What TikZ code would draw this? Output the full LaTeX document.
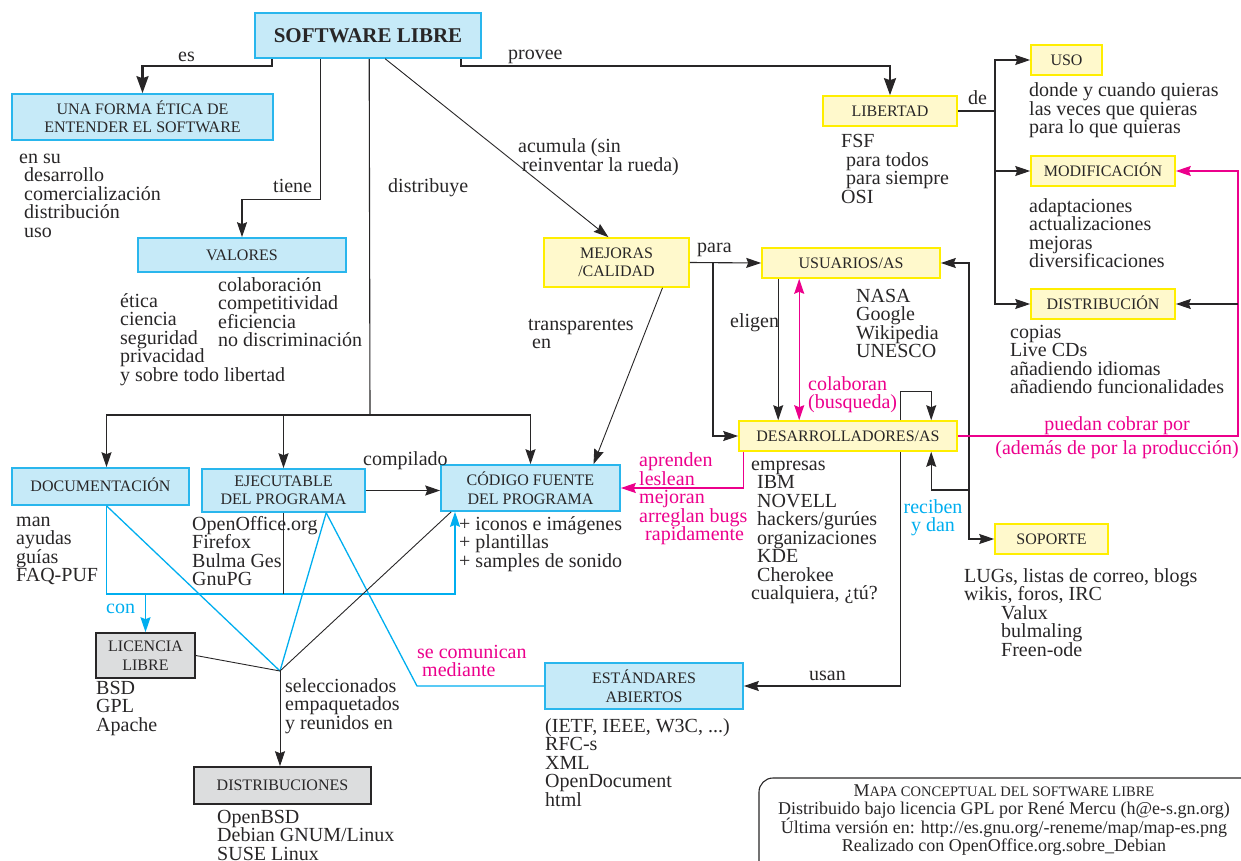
\documentclass[tikz,border=0pt]{standalone}
\usepackage{fontspec}
\setmainfont{Liberation Serif}
\usetikzlibrary{arrows.meta}
\lineskiplimit=-20pt

\definecolor{cajaazul}{RGB}{198,234,248}
\definecolor{bordeazul}{RGB}{41,182,237}
\definecolor{cajaamarilla}{RGB}{255,249,204}
\definecolor{bordeamarillo}{RGB}{255,238,0}
\definecolor{cajagris}{RGB}{220,221,222}
\definecolor{rosa}{RGB}{236,0,140}
\definecolor{celeste}{RGB}{0,174,239}
\definecolor{tinta}{RGB}{40,38,39}

\tikzset{
  caja/.style={rectangle, inner sep=0pt, align=center, text=tinta, line width=1.6pt,
    font=\fontsize{16}{18.5}\selectfont},
  simple/.style={text height=10.6pt, text depth=0pt},
  azul/.style={caja, fill=cajaazul, draw=bordeazul},
  amarilla/.style={caja, fill=cajaamarilla, draw=bordeamarillo},
  gris/.style={caja, fill=cajagris, draw=tinta},
  % base = linea de base de la ultima linea
  lista/.style={anchor=base west, align=left, inner sep=0pt, text=tinta,
    font=\fontsize{20}{18.5}\selectfont},
  etiqueta/.style={lista},
  linea/.style={draw=tinta, line width=1.1pt},
  flecha/.style={linea, -{Stealth[length=15pt,width=10pt,inset=2pt]}},
  gruesa/.style={draw=tinta, line width=2.4pt, -{Stealth[length=17pt,width=12pt,inset=2pt]}},
  rosaflecha/.style={draw=rosa, line width=1.3pt, -{Stealth[length=15pt,width=10pt,inset=2pt]}},
  celestelinea/.style={draw=celeste, line width=1.3pt},
  celesteflecha/.style={celestelinea, -{Stealth[length=15pt,width=10pt,inset=2pt]}},
}

\begin{document}
\begin{tikzpicture}[x=1pt,y=1pt]
	\useasboundingbox (0,0) rectangle (1241,-861);
	% conceptos
	\node[azul, minimum width=226pt, minimum height=45pt, text height=14pt, text depth=0pt, font=\bfseries\fontsize{21}{22}\selectfont] (sl) at (368,-35.5) {SOFTWARE LIBRE};
	\node[azul, minimum width=261pt, minimum height=46pt] (etica) at (142.5,-117) {UNA FORMA ÉTICA DE\\ENTENDER EL SOFTWARE};
	\node[azul, minimum width=208pt, minimum height=34pt, simple] (valores) at (242,-255) {VALORES};
	\node[amarilla, minimum width=145pt, minimum height=49pt] (mejoras) at (616.5,-262.5) {MEJORAS\\/CALIDAD};
	\node[amarilla, minimum width=134pt, minimum height=30pt, simple] (libertad) at (890,-111) {LIBERTAD};
	\node[amarilla, minimum width=71pt, minimum height=30pt, simple] (uso) at (1066.5,-60) {USO};
	\node[amarilla, minimum width=144pt, minimum height=30pt, simple] (modif) at (1103,-171) {MODIFICACIÓN};
	\node[amarilla, minimum width=144pt, minimum height=30pt, simple] (distrib) at (1103,-304) {DISTRIBUCIÓN};
	\node[amarilla, minimum width=178pt, minimum height=30pt, simple] (usuarios) at (851,-263) {USUARIOS/AS};
	\node[amarilla, minimum width=218pt, minimum height=30pt, simple] (desarr) at (848,-436) {DESARROLLADORES/AS};
	\node[amarilla, minimum width=113pt, minimum height=30pt, simple] (soporte) at (1051.5,-539) {SOPORTE};
	\node[azul, minimum width=177pt, minimum height=37pt, simple] (doc) at (100.5,-486.5) {DOCUMENTACIÓN};
	\node[azul, minimum width=163pt, minimum height=43pt] (ejec) at (283.5,-490.5) {EJECUTABLE\\DEL PROGRAMA};
	\node[azul, minimum width=179pt, minimum height=46pt] (codigo) at (530.5,-488) {CÓDIGO FUENTE\\DEL PROGRAMA};
	\node[gris, minimum width=99pt, minimum height=45pt] (licencia) at (145.5,-655.5) {LICENCIA\\LIBRE};
	\node[gris, minimum width=177pt, minimum height=37pt, simple] (distros) at (282.5,-785.5) {DISTRIBUCIONES};
	\node[azul, minimum width=198pt, minimum height=46pt] (estandares) at (644,-686) {ESTÁNDARES\\ABIERTOS};
	% puntos de paso
	\coordinate (reparte) at (370,-415);
	\coordinate (para) at (713,-263);
	\coordinate (de) at (995,-111);
	\coordinate (apoyo) at (969,-490);
	\coordinate (cobro) at (1238,-304);
	\coordinate (fuente) at (455,-594);
	\coordinate (junta) at (280,-671);
	\coordinate (mediante) at (417,-686);
	% conectores
	\draw[gruesa] ([xshift=18pt]sl.south west) -- ++(0,-7) -| (etica.north);
	\draw[gruesa] ([xshift=-21pt]sl.south east) -- ++(0,-7) -| (libertad.north);
	\draw[flecha] ([xshift=66pt]sl.south west) -- ++(0,-141) -| (valores.north);
	\draw[linea] ([xshift=115pt]sl.south west) -- (reparte);
	\draw[flecha] (reparte) -| ([xshift=6pt]doc.north);
	\draw[flecha] (reparte) -| (ejec.north);
	\draw[flecha] (reparte) -| (codigo.north);
	\draw[flecha, line width=0.9pt] ([xshift=131pt]sl.south west) -- ([xshift=-8pt]mejoras.north);
	\draw[flecha, line width=0.9pt] ([xshift=46pt]mejoras.south) -- ([xshift=63pt]codigo.north);
	\draw[flecha] (mejoras.east) -- (usuarios.west);
	\draw[flecha] (para) |- (desarr.west);
	\draw[flecha] ([xshift=17pt]usuarios.south west) -- ([xshift=17pt]usuarios.south west |- desarr.north);
	\draw[rosaflecha, {Stealth[length=15pt,width=10pt,inset=2pt]}-{Stealth[length=15pt,width=10pt,inset=2pt]}] ([xshift=38pt]usuarios.south west) -- ([xshift=38pt]usuarios.south west |- desarr.north);
	\draw[flecha] ([xshift=162pt]desarr.north west) -- ++(0,29) -| ([xshift=193pt]desarr.north west);
	\draw[flecha] (apoyo) |- (usuarios.east);
	\draw[flecha] (apoyo) -| ([xshift=193pt]desarr.south west);
	\draw[flecha] (apoyo) |- (soporte.west);
	\draw[flecha] ([xshift=162pt]desarr.south west) |- (estandares.east);
	\draw[rosaflecha] ([xshift=5pt]desarr.south west) |- (codigo.east);
	\draw[rosaflecha] (desarr.east) -- (desarr.east -| cobro) |- (modif.east);
	\draw[flecha] (cobro) -- (distrib.east);
	\draw[linea] (libertad.east) -- (de);
	\draw[flecha] (de) |- (uso.west);
	\draw[flecha] (de) |- (modif.west);
	\draw[flecha] (de) |- (distrib.west);
	\draw[flecha] (ejec.east) -- (ejec.east -| codigo.west);
	\draw[celesteflecha] ([xshift=6pt]doc.south) |- (fuente) -- (fuente |- codigo.south);
	\draw[linea] (ejec.south) -- (ejec.south |- fuente);
	\draw[celesteflecha] (licencia.north |- fuente) -- (licencia.north);
	\draw[celestelinea] ([xshift=6pt]doc.south) -- (junta);
	\draw[celestelinea] ([xshift=125pt]ejec.south west) -- (junta);
	\draw[celestelinea] ([xshift=125pt]ejec.south west) -- (mediante) -- (estandares.west);
	\draw[linea, line width=0.9pt] ([xshift=11pt]codigo.south west) -- (junta);
	\draw[linea, line width=0.9pt] (licencia.east) -- (junta);
	\draw[flecha, line width=0.9pt] (junta) -- (junta |- distros.north);
	% etiquetas de los conectores
	\node[etiqueta] (lEs) at (178,-62) {es};
	\node[etiqueta] (lProvee) at (508,-60) {provee};
	\node[etiqueta] (lTiene) at (273,-193) {tiene};
	\node[etiqueta] (lDistribuye) at (388,-193) {distribuye};
	\node[etiqueta] (lAcumula) at (518,-171.5) {acumula (sin\\\hspace*{4pt}reinventar la rueda)};
	\node[etiqueta] (lTransparentes) at (528,-348.5) {transparentes\\\hspace*{4pt}en};
	\node[etiqueta] (lPara) at (697,-252) {para};
	\node[etiqueta] (lDe) at (968,-105) {de};
	\node[etiqueta] (lEligen) at (730,-327) {eligen};
	\node[etiqueta, text=rosa] (lColaboran) at (808,-408.5) {colaboran\\(busqueda)};
	\node[etiqueta, text=rosa, anchor=base, align=center] (lCobrar) at (1117,-454) {puedan cobrar por\\[5pt](además de por la producción)};
	\node[etiqueta, text=celeste, anchor=base, align=center] (lReciben) at (933,-531.5) {reciben\\y dan};
	\node[etiqueta, text=rosa] (lAprenden) at (639,-540.5) {aprenden\\leslean\\mejoran\\arreglan bugs\\\hspace*{6pt}rapidamente};
	\node[etiqueta] (lUsan) at (809,-680) {usan};
	\node[etiqueta] (lCompilado) at (363,-465) {compilado};
	\node[etiqueta, text=celeste] (lCon) at (106,-613) {con};
	\node[etiqueta] (lSeleccionados) at (285,-729) {seleccionados\\empaquetados\\y reunidos en};
	\node[etiqueta, text=rosa] (lComunican) at (417,-676.5) {se comunican\\\hspace*{5pt}mediante};
	% ejemplos bajo cada concepto
	\node[lista] (tEnsu) at (19,-237) {en su\\\hspace*{5pt}desarrollo\\\hspace*{5pt}comercialización\\\hspace*{5pt}distribución\\\hspace*{5pt}uso};
	\node[lista] (tValoresA) at (120,-381) {ética\\ciencia\\seguridad\\privacidad\\y sobre todo libertad};
	\node[lista] (tValoresB) at (218,-346.5) {colaboración\\competitividad\\eficiencia\\no discriminación};
	\node[lista] (tLibertad) at (841,-203.5) {FSF\\\hspace*{5pt}para todos\\\hspace*{5pt}para siempre\\OSI};
	\node[lista] (tUso) at (1029,-134) {donde y cuando quieras\\las veces que quieras\\para lo que quieras};
	\node[lista] (tModif) at (1029,-267.5) {adaptaciones\\actualizaciones\\mejoras\\diversificaciones};
	\node[lista] (tDistrib) at (1010,-393.5) {copias\\Live CDs\\añadiendo idiomas\\añadiendo funcionalidades};
	\node[lista] (tUsuarios) at (856,-357.5) {NASA\\Google\\Wikipedia\\UNESCO};
	\node[lista] (tDesarr) at (751,-599.5) {empresas\\\hspace*{6pt}IBM\\\hspace*{6pt}NOVELL\\\hspace*{6pt}hackers/gurúes\\\hspace*{6pt}organizaciones\\\hspace*{6pt}KDE\\\hspace*{6pt}Cherokee\\cualquiera, ¿tú?};
	\node[lista] (tSoporte) at (964,-656) {LUGs, listas de correo, blogs\\wikis, foros, IRC\\\hspace*{37pt}Valux\\\hspace*{37pt}bulmaling\\\hspace*{37pt}Freen-ode};
	\node[lista] (tDoc) at (16,-581.5) {man\\ayudas\\guías\\FAQ-PUF};
	\node[lista] (tEjec) at (192,-585.5) {OpenOffice.org\\Firefox\\Bulma Ges\\GnuPG};
	\node[lista] (tCodigo) at (459,-567) {+ iconos e imágenes\\+ plantillas\\+ samples de sonido};
	\node[lista] (tLicencia) at (96,-731) {BSD\\GPL\\Apache};
	\node[lista] (tDistros) at (217,-860) {OpenBSD\\Debian GNUM/Linux\\SUSE Linux};
	\node[lista] (tEstandares) at (545,-806) {(IETF, IEEE, W3C, ...)\\RFC-s\\XML\\OpenDocument\\html};
	% creditos
	\draw[linea, rounded corners=14pt] (759,-778) rectangle (1262,-885);
	\node[lista, anchor=base, align=center, font=\fontsize{18}{18.5}\selectfont] (creditos) at (1004,-851.5) {{\fontsize{18}{18.5}\selectfont M}{\fontsize{14.5}{18.5}\selectfont APA CONCEPTUAL DEL SOFTWARE LIBRE}\\Distribuido bajo licencia GPL por René Mercu (h@e-s.gn.org)\\Última versión en: http://es.gnu.org/-reneme/map/map-es.png\\Realizado con OpenOffice.org.sobre\_Debian};
\end{tikzpicture}
\end{document}
